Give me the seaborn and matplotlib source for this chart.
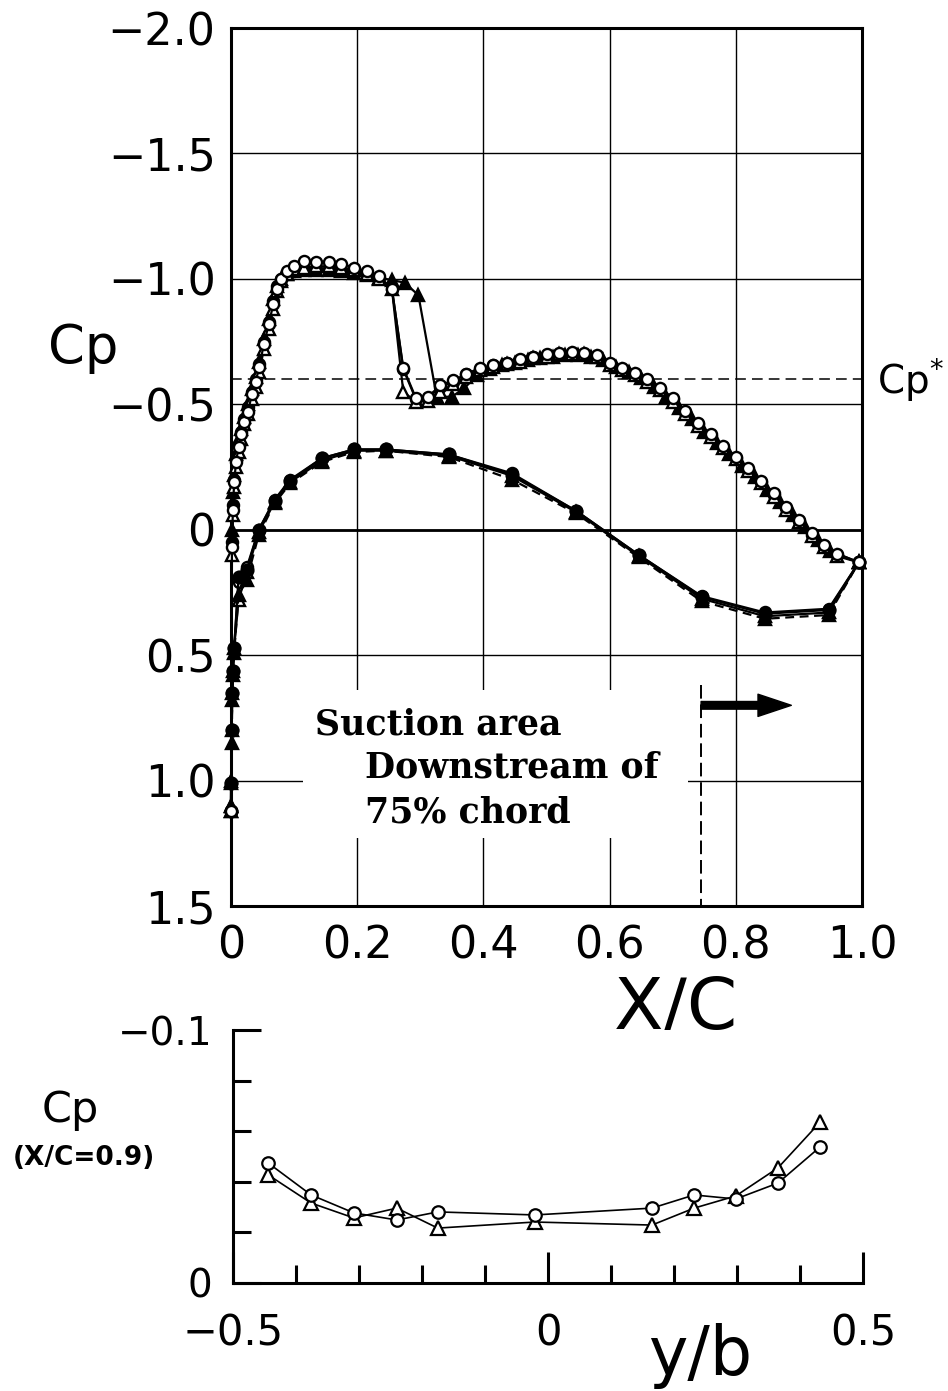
import numpy as np
import pandas as pd
import matplotlib
matplotlib.use("Agg")
import matplotlib.pyplot as plt
import matplotlib.transforms as mtransforms
from matplotlib.patches import Rectangle
import seaborn as sns

# ------------------------------------------------------------------ data
# upper surface (leading edge -> trailing edge), open circle / open triangle / filled circle cases
x_upper = [0.0, 0.0015, 0.003, 0.005, 0.008, 0.012, 0.016, 0.021, 0.027, 0.033,
           0.039, 0.045, 0.052, 0.060, 0.067, 0.073, 0.079, 0.089, 0.100, 0.115,
           0.135, 0.155, 0.175, 0.195, 0.215, 0.235, 0.255, 0.273, 0.293, 0.312,
           0.332, 0.352, 0.373, 0.394, 0.415, 0.437, 0.458, 0.479, 0.500, 0.520,
           0.540, 0.560, 0.580, 0.600, 0.620, 0.640, 0.660, 0.680, 0.700, 0.720,
           0.740, 0.760, 0.780, 0.800, 0.820, 0.840, 0.860, 0.880, 0.900, 0.920,
           0.940, 0.960, 0.995]
cp_upper_open_circle = [1.12, 0.07, -0.08, -0.19, -0.27, -0.33, -0.38, -0.43, -0.47, -0.54,
                        -0.59, -0.65, -0.74, -0.82, -0.90, -0.96, -1.00, -1.03, -1.05, -1.07,
                        -1.068, -1.068, -1.06, -1.045, -1.03, -1.01, -0.96, -0.645, -0.525, -0.53,
                        -0.575, -0.595, -0.62, -0.645, -0.655, -0.665, -0.68, -0.69, -0.70, -0.705,
                        -0.71, -0.705, -0.695, -0.665, -0.645, -0.625, -0.60, -0.565, -0.525, -0.475,
                        -0.425, -0.38, -0.335, -0.29, -0.245, -0.195, -0.145, -0.09, -0.04, 0.015,
                        0.06, 0.095, 0.13]
cp_upper_open_triangle = [1.12, 0.10, -0.06, -0.17, -0.25, -0.31, -0.36, -0.42, -0.46, -0.52,
                          -0.57, -0.63, -0.72, -0.80, -0.88, -0.95, -0.99, -1.02, -1.04, -1.045,
                          -1.05, -1.05, -1.045, -1.035, -1.02, -1.00, -0.96, -0.55, -0.51, -0.515,
                          -0.55, -0.58, -0.61, -0.635, -0.65, -0.66, -0.67, -0.685, -0.69, -0.70,
                          -0.70, -0.70, -0.69, -0.655, -0.635, -0.615, -0.59, -0.555, -0.51, -0.46,
                          -0.415, -0.37, -0.325, -0.28, -0.235, -0.185, -0.13, -0.08, -0.03, 0.025,
                          0.07, 0.105, 0.13]
cp_upper_filled_circle = [1.12, 0.05, -0.10, -0.20, -0.28, -0.34, -0.39, -0.44, -0.49, -0.55,
                          -0.60, -0.66, -0.75, -0.83, -0.91, -0.97, -1.00, -1.02, -1.03, -1.04,
                          -1.04, -1.04, -1.035, -1.03, -1.02, -1.005, -0.96, -0.64, -0.52, -0.525,
                          -0.57, -0.59, -0.62, -0.64, -0.655, -0.665, -0.675, -0.69, -0.695, -0.70,
                          -0.705, -0.70, -0.69, -0.66, -0.64, -0.62, -0.595, -0.56, -0.52, -0.47,
                          -0.42, -0.375, -0.33, -0.285, -0.24, -0.19, -0.14, -0.085, -0.035, 0.02,
                          0.065, 0.10, 0.13]
# filled triangle case (shock further aft)
x_upper_filled_triangle = [0.0, 0.0015, 0.003, 0.005, 0.008, 0.012, 0.016, 0.021, 0.027, 0.033,
                           0.039, 0.045, 0.052, 0.060, 0.067, 0.073, 0.079, 0.089, 0.100, 0.115,
                           0.135, 0.155, 0.175, 0.195, 0.215, 0.235, 0.255, 0.275, 0.297, 0.326,
                           0.350, 0.370, 0.390, 0.410, 0.430, 0.450, 0.470, 0.490, 0.510, 0.530,
                           0.550, 0.570, 0.590, 0.610, 0.630, 0.650, 0.670, 0.690, 0.710, 0.730,
                           0.750, 0.770, 0.790, 0.810, 0.830, 0.850, 0.870, 0.890, 0.910, 0.930,
                           0.950, 0.995]
cp_upper_filled_triangle = [1.10, 0.0, -0.15, -0.22, -0.30, -0.36, -0.40, -0.45, -0.50, -0.56,
                            -0.61, -0.67, -0.76, -0.84, -0.92, -0.97, -1.00, -1.02, -1.03, -1.035,
                            -1.035, -1.035, -1.03, -1.025, -1.015, -1.005, -0.995, -0.985, -0.935, -0.53,
                            -0.53, -0.565, -0.615, -0.64, -0.655, -0.665, -0.675, -0.685, -0.69, -0.695,
                            -0.695, -0.69, -0.675, -0.65, -0.63, -0.605, -0.57, -0.53, -0.485, -0.44,
                            -0.39, -0.345, -0.30, -0.255, -0.21, -0.16, -0.11, -0.06, -0.01, 0.04,
                            0.085, 0.13]
# lower surface (leading edge -> trailing edge)
x_lower = [0.0, 0.0005, 0.001, 0.002, 0.003, 0.005, 0.012, 0.025, 0.044, 0.069,
           0.094, 0.144, 0.195, 0.245, 0.345, 0.445, 0.547, 0.646, 0.746, 0.846,
           0.947, 0.995]
cp_lower_open_circle = [1.12, 1.01, 0.80, 0.65, 0.565, 0.47, 0.21, 0.15, 0.0, -0.12,
                        -0.20, -0.285, -0.32, -0.32, -0.30, -0.225, -0.075, 0.10, 0.265, 0.33,
                        0.315, 0.13]
cp_lower_open_triangle = [1.12, 1.01, 0.80, 0.65, 0.565, 0.47, 0.28, 0.17, 0.01, -0.11,
                          -0.19, -0.275, -0.315, -0.315, -0.295, -0.215, -0.07, 0.105, 0.275, 0.345,
                          0.33, 0.13]
cp_lower_filled_circle = [1.12, 1.01, 0.80, 0.65, 0.565, 0.47, 0.19, 0.16, 0.0, -0.115,
                          -0.195, -0.285, -0.32, -0.32, -0.30, -0.22, -0.075, 0.10, 0.268, 0.335,
                          0.32, 0.13]
cp_lower_filled_triangle = [1.10, 1.0, 0.85, 0.68, 0.58, 0.49, 0.26, 0.20, 0.02, -0.105,
                            -0.185, -0.27, -0.31, -0.315, -0.29, -0.20, -0.065, 0.11, 0.285, 0.355,
                            0.34, 0.13]
cp_star = -0.6
suction_start = 0.745

# spanwise distribution at X/C = 0.9
y_over_b = [-0.444, -0.376, -0.308, -0.240, -0.175, -0.021, 0.165, 0.232, 0.298, 0.365, 0.432]
cp09_circle = [-0.0474, -0.0348, -0.0277, -0.0249, -0.0281, -0.0269, -0.0296, -0.0348, -0.0332, -0.0395, -0.0538]
cp09_triangle = [-0.0427, -0.0316, -0.0257, -0.0296, -0.0217, -0.0241, -0.0229, -0.0296, -0.0344, -0.0455, -0.0636]

MINUS = "\u2212"
x_ticks_top = [0.0, 0.2, 0.4, 0.6, 0.8, 1.0]
x_ticklabels_top = ["0", "0.2", "0.4", "0.6", "0.8", "1.0"]
y_ticks_top = [-2.0, -1.5, -1.0, -0.5, 0.0, 0.5, 1.0, 1.5]
y_ticklabels_top = [MINUS + "2.0", MINUS + "1.5", MINUS + "1.0", MINUS + "0.5", "0", "0.5", "1.0", "1.5"]

# ------------------------------------------------------------------ style
sns.set_style("white")
plt.rcParams["font.family"] = ["DejaVu Sans"]
plt.rcParams["mathtext.default"] = "regular"
for key in ["text.color", "axes.labelcolor", "xtick.color", "ytick.color", "axes.edgecolor"]:
    plt.rcParams[key] = "black"

W, H = 948, 1391
fig = plt.figure(figsize=(W / 100, H / 100), dpi=100)
fig.patch.set_facecolor("white")

ax1 = fig.add_axes([231 / W, 1 - 906 / H, 631 / W, 878 / H])
ax2 = fig.add_axes([233 / W, 1 - 1283 / H, 630 / W, 253 / H])


def draw(ax, x, y, marker, mfc, ls, ms, z, lw=1.6, mew=1.7):
    d = pd.DataFrame({"x": x, "cp": y})
    sns.lineplot(data=d, x="x", y="cp", sort=False, estimator=None, ax=ax,
                 color="black", linestyle=ls, linewidth=lw, marker=marker,
                 markersize=ms, markerfacecolor=mfc, markeredgecolor="black",
                 markeredgewidth=mew, clip_on=False, zorder=z)


DASH = (0, (4, 2.5))
# lower surfaces
draw(ax1, x_lower, cp_lower_open_circle, "o", "white", "-", 8, 3.0)
draw(ax1, x_lower, cp_lower_open_triangle, "^", "white", "-", 8.5, 3.05)
draw(ax1, x_lower, cp_lower_filled_triangle, "^", "black", DASH, 8.5, 3.1)
draw(ax1, x_lower, cp_lower_filled_circle, "o", "black", "-", 8.5, 3.15)
# upper surfaces
draw(ax1, x_upper, cp_upper_filled_circle, "o", "black", "-", 8, 3.2)
draw(ax1, x_upper_filled_triangle, cp_upper_filled_triangle, "^", "black", "-", 8.5, 3.25)
draw(ax1, x_upper, cp_upper_open_triangle, "^", "white", "-", 8.5, 3.3)
draw(ax1, x_upper, cp_upper_open_circle, "o", "white", "-", 8, 3.35)

ax1.set_xlim(0, 1.0)
ax1.set_ylim(1.5, -2.0)
ax1.set_xticks(x_ticks_top)
ax1.set_xticklabels(x_ticklabels_top)
ax1.set_yticks(y_ticks_top)
ax1.set_yticklabels(y_ticklabels_top)
ax1.tick_params(axis="both", length=0, labelsize=32, colors="black")
ax1.tick_params(axis="y", pad=11)
ax1.tick_params(axis="x", pad=13)
ax1.set_axisbelow(True)
ax1.grid(True, color="black", linewidth=1.0)
for s in ax1.spines.values():
    s.set_color("black")
    s.set_linewidth(2.2)
ax1.axhline(0.0, color="black", linewidth=2.0, zorder=1.2)

# white box behind the annotation text
ax1.add_patch(Rectangle((0.114, 0.64), 0.61, 0.59, facecolor="white",
                        edgecolor="none", zorder=1.0))

# sonic Cp* line
ax1.axhline(cp_star, color="black", linewidth=1.1, linestyle=(0, (7, 4)), zorder=1.5)
blend = mtransforms.blended_transform_factory(ax1.transAxes, ax1.transData)
ax1.text(1.024, cp_star, "Cp$^{*}$", transform=blend, ha="left", va="center",
         fontsize=28, clip_on=False)

# suction area marker
ax1.plot([suction_start, suction_start], [0.62, 1.5], color="black",
         linewidth=1.4, linestyle=(0, (7, 3)), zorder=2)
ax1.annotate("", xy=(0.888, 0.70), xytext=(suction_start, 0.70),
             arrowprops=dict(arrowstyle="simple,head_length=2.4,head_width=1.6,tail_width=0.55",
                             mutation_scale=10, color="black", shrinkA=0, shrinkB=0),
             zorder=4)
text_kw = dict(family="DejaVu Serif", fontsize=25, fontweight="bold",
               ha="left", va="baseline", zorder=5)
ax1.text(0.133, 0.817, "Suction area", **text_kw)
ax1.text(0.212, 0.988, "Downstream of", **text_kw)
ax1.text(0.212, 1.167, "75% chord", **text_kw)

ax1.set_ylabel("Cp", rotation=0, fontsize=38, ha="center", va="center")
ax1.yaxis.set_label_coords((83 - 231) / 631, (906 - 348) / 878)
ax1.set_xlabel("X/C", fontsize=52, ha="center", va="center")
ax1.xaxis.set_label_coords((676 - 231) / 631, (906 - 1010) / 878)

# ------------------------------------------------------------------ bottom panel
draw(ax2, y_over_b, cp09_triangle, "^", "white", "-", 9.5, 3.0, lw=1.2, mew=1.6)
draw(ax2, y_over_b, cp09_circle, "o", "white", "-", 9, 3.1, lw=1.2, mew=1.6)

ax2.set_xlim(-0.5, 0.5)
ax2.set_ylim(0.0, -0.1)
ax2.set_xticks([-0.5, 0.0, 0.5])
ax2.set_xticklabels([MINUS + "0.5", "0", "0.5"])
ax2.set_xticks([-0.4, -0.3, -0.2, -0.1, 0.1, 0.2, 0.3, 0.4], minor=True)
ax2.set_yticks([-0.1, 0.0])
ax2.set_yticklabels([MINUS + "0.1", "0"])
ax2.set_yticks([-0.08, -0.06, -0.04, -0.02], minor=True)
ax2.tick_params(axis="x", which="major", direction="in", length=22, width=2.2,
                pad=21, labelsize=30, colors="black", bottom=True)
ax2.tick_params(axis="x", which="minor", direction="in", length=13, width=2.2,
                bottom=True)
ax2.tick_params(axis="y", which="major", direction="in", length=20, width=2.2,
                pad=15, labelsize=28, colors="black", left=True)
ax2.tick_params(axis="y", which="minor", direction="in", length=13, width=2.2,
                left=True)
for side in ["top", "right"]:
    ax2.spines[side].set_visible(False)
for side in ["left", "bottom"]:
    ax2.spines[side].set_color("black")
    ax2.spines[side].set_linewidth(2.2)

ax2.set_ylabel("Cp", rotation=0, fontsize=31, ha="center", va="center")
ax2.yaxis.set_label_coords((70 - 233) / 630, (1283 - 1110) / 253)
ax2.text((84 - 233) / 630, (1283 - 1158) / 253, "(X/C=0.9)", transform=ax2.transAxes,
         fontsize=19, fontweight="bold", ha="center", va="center")
ax2.set_xlabel("y/b", fontsize=48, ha="center", va="center")
ax2.xaxis.set_label_coords((700 - 233) / 630, (1283 - 1356) / 253)

fig.savefig("out.png", dpi=100, facecolor="white")
